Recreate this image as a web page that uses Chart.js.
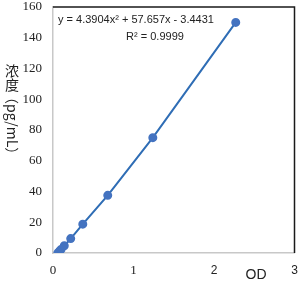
<!DOCTYPE html>
<html><head><meta charset="utf-8">
<script src="https://cdn.jsdelivr.net/npm/chart.js@4/dist/chart.umd.min.js"></script>
<style>html,body{margin:0;padding:0;background:#fff}#w{width:300px;height:284px}</style>
</head><body><div id="w"><canvas id="c"></canvas></div>
<script>
const odValues = [0.06, 0.08, 0.10, 0.14, 0.22, 0.37, 0.68, 1.24, 2.27];
const concValues = [0, 1.171875, 2.34375, 4.6875, 9.375, 18.75, 37.5, 75, 150];
const xTicks = [0, 1, 2, 3];
const yTicks = [0, 20, 40, 60, 80, 100, 120, 140, 160];
const equationText = 'y = 4.3904x² + 57.657x - 3.4431';
const r2Text = 'R² = 0.9999';
const xTitle = 'OD';
const yTitleUpright = ['浓', '度'];
const yTitleRotated = '（pg/mL）';

const overlay = {
  id: 'overlay',
  afterDraw(chart) {
    const ctx = chart.ctx, a = chart.chartArea;
    ctx.save();
    ctx.strokeStyle = '#1a1a1a'; ctx.lineWidth = 1.5;
    ctx.beginPath();
    ctx.moveTo(a.left, a.top); ctx.lineTo(a.right, a.top); ctx.lineTo(a.right, a.bottom);
    ctx.stroke();
    ctx.fillStyle = '#222';
    ctx.font = '11px "Liberation Sans", Arial, sans-serif';
    ctx.textBaseline = 'middle';
    ctx.textAlign = 'left';
    ctx.fillText(equationText, 58, 20);
    ctx.textAlign = 'center';
    ctx.fillText(r2Text, 155, 37);
    ctx.font = '14px "Liberation Sans", Arial, sans-serif';
    ctx.fillText(xTitle, 256, 275);
    ctx.font = '14px "Noto Sans CJK SC", sans-serif';
    ctx.fillText(yTitleUpright[0], 12, 71);
    ctx.fillText(yTitleUpright[1], 12, 85);
    ctx.translate(12, 90);
    ctx.rotate(Math.PI / 2);
    ctx.textAlign = 'left';
    ctx.fillText(yTitleRotated, 0, 0);
    ctx.restore();
  }
};

function zeroPad(s) { s.paddingTop = 0; s.paddingBottom = 0; s.paddingLeft = 0; s.paddingRight = 0; }

new Chart(document.getElementById('c'), {
  type: 'scatter',
  data: {
    datasets: [{
      data: odValues.map((x, i) => ({x, y: concValues[i]})),
      showLine: true,
      borderColor: '#2f6db5',
      borderWidth: 2,
      backgroundColor: '#4473c0',
      pointBackgroundColor: '#4473c0',
      pointBorderColor: '#4473c0',
      pointRadius: 3.5,
      pointHoverRadius: 3.5,
      tension: 0
    }]
  },
  options: {
    responsive: true,
    maintainAspectRatio: false,
    animation: false,
    devicePixelRatio: 1,
    events: [],
    layout: { padding: { left: 0, right: 5, top: 7, bottom: 0 } },
    plugins: { legend: { display: false }, tooltip: { enabled: false } },
    scales: {
      x: {
        type: 'linear', min: 0, max: 3,
        afterBuildTicks(s) { s.ticks = xTicks.map(v => ({value: v})); },
        afterFit(s) { s.height = 31; zeroPad(s); },
        grid: { display: false, drawTicks: false },
        border: { display: true, color: '#c8c8c8', width: 1.5 },
        ticks: {
          padding: 10, color: '#222',
          font: (c) => (c.index < 2 ? { family: '"Liberation Serif", serif', size: 13 } : { family: '"Liberation Sans", sans-serif', size: 12 })
        }
      },
      y: {
        type: 'linear', min: 0, max: 160,
        afterBuildTicks(s) { s.ticks = yTicks.map(v => ({value: v})); },
        afterFit(s) { s.width = 53; zeroPad(s); },
        grid: { display: false, drawTicks: false },
        border: { display: true, color: '#c8c8c8', width: 1.5 },
        ticks: { padding: 11, color: '#222', font: { family: '"Liberation Serif", serif', size: 13 } }
      }
    }
  },
  plugins: [overlay]
});
</script>
</body></html>
